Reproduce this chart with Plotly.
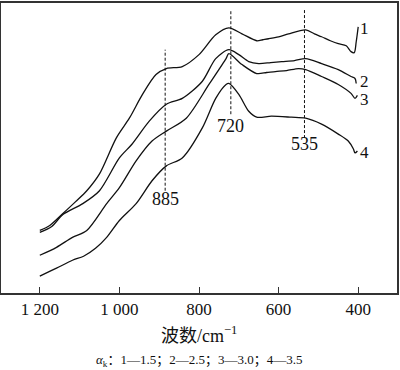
import plotly.graph_objects as go

# wavenumber (cm^-1) and relative transmittance (arbitrary units)
wn1 = [1200, 1175, 1142, 1110, 1082, 1050, 1008, 975, 942, 908, 882, 842, 800, 758, 725, 692, 655, 640, 625, 600, 575, 532, 510, 492, 470, 450, 430, 418, 410, 405, 400]
t1  = [63, 68, 80, 92, 103, 120, 156, 176, 200, 220, 226, 228, 240, 260, 267, 261, 254, 255, 256, 258, 261, 265, 261, 258, 254, 251, 249, 243, 242, 253, 268]

wn2 = [1200, 1170, 1142, 1092, 1050, 1000, 968, 925, 882, 842, 792, 758, 725, 700, 675, 650, 620, 592, 560, 532, 492, 450, 418, 408, 405]
t2  = [61, 67, 79, 90, 103, 136, 150, 173, 190, 196, 213, 236, 245, 240, 233, 231, 232, 233, 234, 236, 231, 225, 218, 216, 211]

wn3 = [1200, 1158, 1118, 1082, 1032, 1000, 958, 918, 882, 832, 775, 732, 725, 692, 655, 630, 608, 580, 550, 532, 492, 450, 418, 408, 402]
t3  = [38, 46, 56, 63, 90, 106, 133, 153, 163, 176, 210, 236, 241, 230, 221, 222, 223, 224, 226, 225, 218, 210, 201, 196, 199]

wn4 = [1200, 1158, 1118, 1090, 1060, 1032, 1000, 958, 918, 882, 842, 792, 758, 732, 725, 700, 675, 655, 618, 568, 532, 492, 450, 425, 412, 408, 402]
t4  = [17, 25, 33, 37, 45, 56, 73, 90, 113, 128, 136, 166, 196, 210, 211, 200, 183, 177, 178, 177, 176, 170, 160, 153, 145, 141, 143]

series = [("1", wn1, t1), ("2", wn2, t2), ("3", wn3, t3), ("4", wn4, t4)]
peak_wn = [885, 720, 535]
peak_labels = ["885", "720", "535"]
tick_vals = [1200, 1000, 800, 600, 400]
tick_text = ["1 200", "1 000", "800", "600", "400"]

SERIF = "Liberation Serif, Times New Roman, Noto Sans CJK SC, serif"

fig = go.Figure()
for name, x, y in series:
    fig.add_trace(go.Scatter(x=x, y=y, mode="lines", name=name,
                             line=dict(color="#111", width=1.3, shape="spline", smoothing=0.8),
                             showlegend=False, hoverinfo="skip"))

# dashed guide lines at characteristic peaks (y extents are drawing positions)
dash_spans = [(103, 245), (180, 284), (156, 286)]
label_y = [95, 168, 150]
for w, (y0, y1), lab, ly in zip(peak_wn, dash_spans, peak_labels, label_y):
    fig.add_shape(type="line", x0=w, x1=w, y0=y0, y1=y1, xref="x", yref="y",
                  line=dict(color="#111", width=1, dash="3px,2px"))
    fig.add_annotation(x=w, y=ly, text=lab, showarrow=False, xref="x", yref="y",
                       font=dict(family=SERIF, size=18, color="#111"))

# curve numbers
curve_label_y = [266, 213, 195, 141]
for (name, x, y), ly in zip(series, curve_label_y):
    fig.add_annotation(x=383, y=ly, text=name, showarrow=False, xref="x", yref="y",
                       font=dict(family=SERIF, size=17, color="#111"))

fig.add_annotation(x=0.5, y=-0.142, xref="paper", yref="paper", showarrow=False,
                   xanchor="center", yanchor="middle",
                   text="波数/cm<sup>−1</sup>",
                   font=dict(family=SERIF, size=18, color="#111"))
fig.add_annotation(x=0.5, y=-0.233, xref="paper", yref="paper", showarrow=False,
                   xanchor="center", yanchor="middle",
                   text="<i>α</i><sub>k</sub>：1—1.5；2—2.5；3—3.0；4—3.5",
                   font=dict(family=SERIF, size=13, color="#111"))

fig.update_layout(
    width=400, height=370,
    margin=dict(l=1, r=1, t=1, b=77),
    paper_bgcolor="white", plot_bgcolor="white",
    xaxis=dict(range=[1297.5, 302.5], showgrid=False, zeroline=False,
               showline=True, mirror=True, linecolor="#333", linewidth=1.5,
               ticks="inside", ticklen=6, tickcolor="#333", tickwidth=1,
               tickvals=tick_vals, ticktext=tick_text,
               tickfont=dict(family=SERIF, size=17, color="#111")),
    yaxis=dict(range=[0, 292], showgrid=False, zeroline=False,
               showline=True, mirror=True, linecolor="#333", linewidth=1.5,
               showticklabels=False, ticks=""),
)

fig.write_html("out.html", config={"displayModeBar": False},
               post_script="document.body.style.margin='0';document.body.style.overflow='hidden';")
